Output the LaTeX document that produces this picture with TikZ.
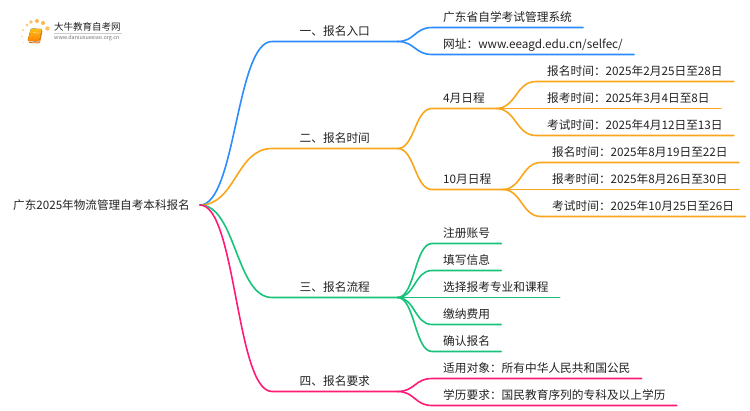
\documentclass[tikz,border=0pt]{standalone}
\usepackage{fontspec}
\usetikzlibrary{calc}
\setmainfont{Noto Sans CJK SC}
\definecolor{cblue}{HTML}{2A8CFF}
\definecolor{corange}{HTML}{F9A61C}
\definecolor{cgreen}{HTML}{17C37B}
\definecolor{cpink}{HTML}{FF1A75}
\definecolor{ctext}{HTML}{222222}
\tikzset{
  item/.style={anchor=south west,inner xsep=11pt,inner ysep=1.5pt,text height=10pt,text depth=4.5pt,font=\fontsize{11.7}{14}\selectfont,text=ctext},
  branch/.style={item,inner xsep=27.5pt},
  link/.style={line width=1.6pt,line cap=round,line join=round}
}
\newcommand{\linkcurve}[3]{%
  \draw[link,#3] (#1) .. controls ($(#1)!0.5!(#1 -| #2.south west)$) and ($(#2.south west)!0.5!(#2.south west -| #1)$) .. (#2.south west) -- (#2.south east);}
\begin{document}
\begin{tikzpicture}[x=1pt,y=-1pt]
\useasboundingbox (0,0) rectangle (750,410);
% logo
\foreach \px/\py/\pr/\po in {22/36.5/1.2/.35,23/30/1.4/.4,27/25/1.6/.55,31/22/1.9/.7,37/21/2/.8,43/23/2/.8,47.5/28.5/2.2/.7,23.5/42.5/1/.25}
  \fill[corange,opacity=\po] (\px,\py) circle (\pr);
\fill[rounded corners=1pt,top color=corange!70!yellow,bottom color=orange] (31,28.5) -- (42,29) -- (39,41.5) -- (27.5,41) -- cycle;
\draw[orange!85!black,line width=.8pt,rounded corners=1pt] (29,42.5) -- (39.5,43) -- (42,31);
\draw[white!70!orange,line width=.5pt] (33,32.5) -- (38.5,33);
\node[anchor=west,inner sep=0pt,font=\fontsize{9.5}{11}\selectfont,text=ctext] (logoa) at (54,27) {大牛教育自考网};
\draw[black!20,line width=.4pt] (54,33.5) -- (122,33.5);
\node[anchor=west,inner sep=0pt,font=\fontsize{5.4}{7}\selectfont,text=black!55] (logob) at (54,38.5) {www.daniuxuexiao.org.cn};
% root
\node[anchor=east,inner sep=0pt,inner xsep=10pt,font=\fontsize{11.6}{14}\selectfont,text=ctext] (root) at (200,205) {广东2025年物流管理自考本科报名};
% level 1
\node[branch] (b1) at (272,41.5) {一、报名入口};
\node[branch] (b2) at (272,148.5) {二、报名时间};
\node[branch] (b3) at (272,297.5) {三、报名流程};
\node[branch] (b4) at (272,391.5) {四、报名要求};
% blue
\node[item] (a1) at (432,27.5) {广东省自学考试管理系统};
\node[item] (a2) at (432,54.5) {网址：www.eeagd.edu.cn/selfec/};
% orange
\node[item] (m4) at (432,108.5) {4月日程};
\node[item] (m10) at (432,189.5) {10月日程};
\node[item] (d1) at (536,81.5) {报名时间：2025年2月25日至28日};
\node[item] (d2) at (536,108.5) {报考时间：2025年3月4日至8日};
\node[item] (d3) at (536,135.5) {考试时间：2025年4月12日至13日};
\node[item] (e1) at (541,162.5) {报名时间：2025年8月19日至22日};
\node[item] (e2) at (541,189.5) {报考时间：2025年8月26日至30日};
\node[item] (e3) at (541,216.5) {考试时间：2025年10月25日至26日};
% green
\node[item] (g1) at (432,243.5) {注册账号};
\node[item] (g2) at (432,270.5) {填写信息};
\node[item] (g3) at (432,297.5) {选择报考专业和课程};
\node[item] (g4) at (432,324.5) {缴纳费用};
\node[item] (g5) at (432,351.5) {确认报名};
% pink
\node[item] (p1) at (432,378.5) {适用对象：所有中华人民共和国公民};
\node[item] (p2) at (432,405.5) {学历要求：国民教育序列的专科及以上学历};
% connectors
\linkcurve{root.east}{b1}{cblue}
\linkcurve{root.east}{b2}{corange}
\linkcurve{root.east}{b3}{cgreen}
\linkcurve{root.east}{b4}{cpink}
\linkcurve{b1.south east}{a1}{cblue}
\linkcurve{b1.south east}{a2}{cblue}
\linkcurve{b2.south east}{m4}{corange}
\linkcurve{b2.south east}{m10}{corange}
\linkcurve{m4.south east}{d1}{corange}
\linkcurve{m4.south east}{d2}{corange}
\linkcurve{m4.south east}{d3}{corange}
\linkcurve{m10.south east}{e1}{corange}
\linkcurve{m10.south east}{e2}{corange}
\linkcurve{m10.south east}{e3}{corange}
\linkcurve{b3.south east}{g1}{cgreen}
\linkcurve{b3.south east}{g2}{cgreen}
\linkcurve{b3.south east}{g3}{cgreen}
\linkcurve{b3.south east}{g4}{cgreen}
\linkcurve{b3.south east}{g5}{cgreen}
\linkcurve{b4.south east}{p1}{cpink}
\linkcurve{b4.south east}{p2}{cpink}
\end{tikzpicture}
\end{document}
